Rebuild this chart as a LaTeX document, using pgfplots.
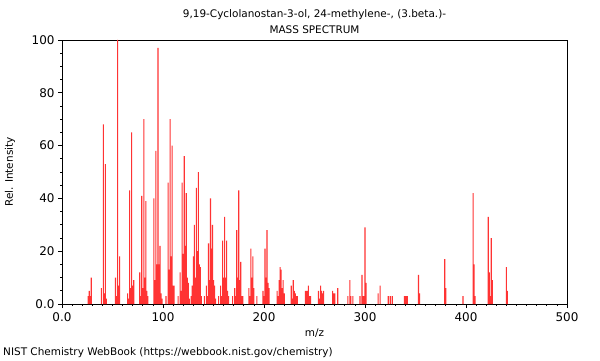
\documentclass[border=0pt]{standalone}
\usepackage{fontspec}
\setmainfont{DejaVu Sans}
\usepackage{pgfplots}
\pgfplotsset{compat=1.18}
\definecolor{peak}{rgb}{1,0.2,0.2}
\begin{document}
\begin{tikzpicture}[x=1bp,y=1bp]
\path[use as bounding box] (0,0) rectangle (600,360);
\begin{axis}[at={(62bp,56bp)}, anchor=south west,
  width=505bp, height=264bp, scale only axis,
  xmin=0, xmax=500, ymin=0, ymax=100,
  xtick={0,100,200,300,400,500}, xticklabels={0.0,100,200,300,400,500},
  ytick={0,20,40,60,80,100}, yticklabels={0.0,20,40,60,80,100},
  minor x tick num=9, minor y tick num=3,
  tick align=outside, xtick pos=left, ytick pos=left,
  major tick length=4bp, minor tick length=2bp,
  every tick/.style={black, line width=0.8bp},
  axis line style={black, line width=0.8bp},
  /pgf/number format/assume math mode=true,
  ticklabel style={font=\fontsize{12}{14}\selectfont},
  xticklabel style={yshift=-1bp},
  clip=false]
\addplot[ybar, bar width=1.1bp, fill=peak, draw=none, mark=none] coordinates {
(26,3)(27,5)(28,3)(29,10)(39,6)(41,68)(42,4)(43,53)(44,2)
(53,10)(54,3)(55,100)(56,7)(57,18)
(65,4)(66,2)(67,43)(68,6)(69,65)(70,7)(71,9)
(77,12)(78,3)(79,41)(80,6)(81,70)(82,10)(83,39)(84,5)(85,3)
(91,40)(92,9)(93,58)(94,15)(95,97)(96,15)(97,22)(98,4)(99,2)
(103,3)(105,46)(106,13)(107,70)(108,18)(109,60)(110,7)(111,7)
(115,3)(117,12)(118,5)(119,46)(120,19)(121,56)(122,22)(123,42)(124,10)(125,8)(126,2)
(128,3)(129,7)(130,18)(131,30)(132,10)(133,44)(134,20)(135,50)(136,15)(137,14)(138,3)
(141,3)(143,7)(144,3)(145,23)(146,9)(147,40)(148,21)(149,30)(150,9)(151,7)(152,2)
(155,3)(157,7)(158,3)(159,24)(160,10)(161,33)(162,10)(163,24)(164,5)(165,3)
(169,3)(171,6)(172,3)(173,28)(174,10)(175,43)(176,9)(177,16)(178,3)(179,3)
(185,6)(186,3)(187,21)(188,10)(189,18)(190,6)(193,3)
(199,5)(200,3)(201,21)(202,10)(203,28)(204,8)(205,6)
(213,5)(214,3)(215,9)(216,14)(217,13)(218,6)(219,9)(220,4)
(227,7)(228,2)(229,9)(230,5)(231,4)(232,3)(233,3)
(241,5)(242,5)(243,5)(244,7)(245,3)(246,3)
(254,5)(255,2)(256,7)(257,5)(258,4)(259,5)
(268,5)(269,4)(270,4)(273,6)
(283,3)(285,9)(286,3)(288,3)
(295,3)(297,11)(298,3)(299,3)(300,29)(301,8)
(313,4)(315,7)(323,3)(325,3)(327,3)
(339,3)(340,3)(341,3)(342,3)
(353,11)(354,4)(379,17)(380,6)(397,3)
(407,42)(408,15)(409,3)
(422,33)(423,12)(424,3)(425,25)(426,9)
(440,14)(441,5)
};
\end{axis}
\node[font=\fontsize{10.5}{12}\selectfont] at (314.5,345) {9,19-Cyclolanostan-3-ol, 24-methylene-, (3.beta.)-};
\node[font=\fontsize{10.5}{12}\selectfont] at (314.5,330) {MASS SPECTRUM};
\node[font=\fontsize{10.5}{12}\selectfont] at (314.5,27) {m/z};
\node[font=\fontsize{10.5}{12}\selectfont, rotate=90] at (10,188) {Rel. Intensity};
\node[font=\fontsize{10.5}{12}\selectfont, anchor=west, inner sep=0pt] at (3,7) {NIST Chemistry WebBook (https://webbook.nist.gov/chemistry)};
\end{tikzpicture}
\end{document}
